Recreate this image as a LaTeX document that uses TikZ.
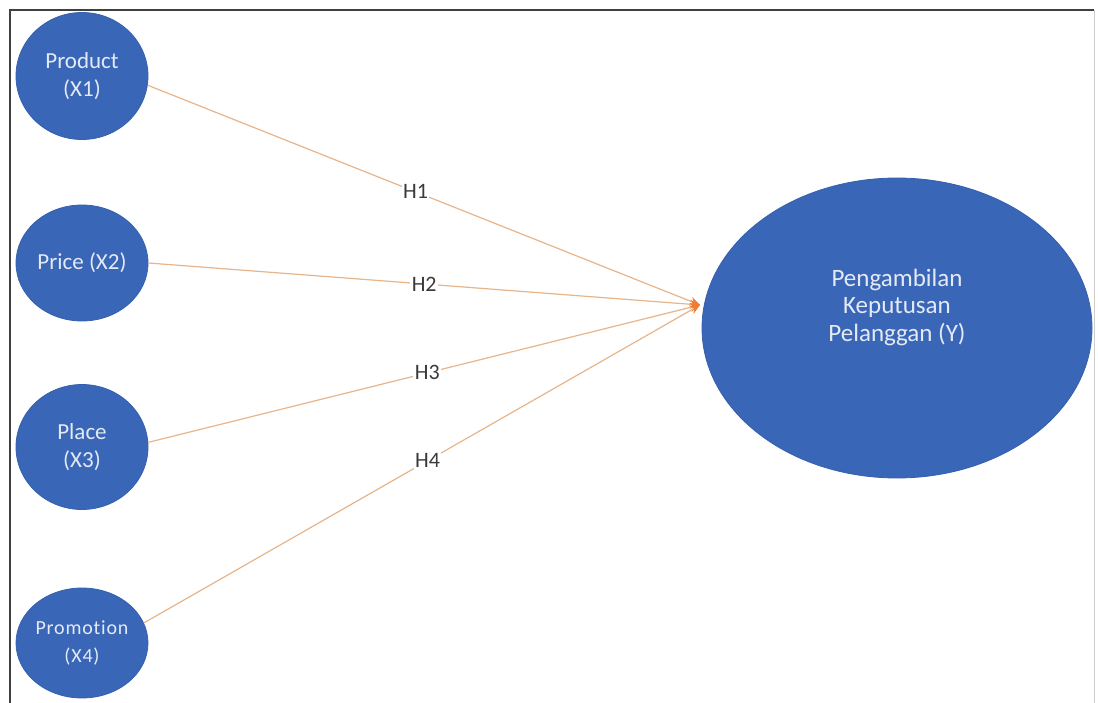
\documentclass[tikz,border=0pt]{standalone}
\usepackage{fontspec}
\setmainfont{Carlito}
\usetikzlibrary{arrows.meta,shapes.geometric}
\definecolor{nodeblue}{HTML}{3A66B8}
\definecolor{nodeedge}{HTML}{3560AE}
\definecolor{linetan}{HTML}{E8B48A}
\definecolor{tiporange}{HTML}{ED7D31}
\definecolor{labelgray}{HTML}{3A3A3A}
\definecolor{nodetext}{HTML}{E4EAF4}
\tikzset{
  varnode/.style={ellipse, fill=nodeblue, draw=nodeedge, line width=0.8pt,
    text=nodetext, align=center, font=\fontsize{23}{28}\selectfont, inner sep=0pt},
  link/.style={draw=linetan, line width=1.2pt,
    -{Stealth[length=10pt,width=9pt,color=tiporange,fill=tiporange]}},
  hlabel/.style={fill=white, inner sep=1.5pt, text=labelgray, font=\fontsize{22}{24}\selectfont},
  frameline/.style={draw=black!75, line width=1.6pt}
}
\begin{document}
\begin{tikzpicture}[x=1pt,y=-1pt]
\useasboundingbox (0,0) rectangle (1098,703);
\fill[white] (0,0) rectangle (1098,703);
% frame
\draw[frameline] (10,715) -- (10,10) -- (1094,10);
\draw[draw=black!20, line width=0.8pt] (1094,10) -- (1094,715);
% nodes
\node[varnode, minimum width=132pt, minimum height=127pt] (x1) at (82,76) {Product\\(X1)};
\node[varnode, minimum width=132pt, minimum height=116pt] (x2) at (82,263) {Price (X2)};
\node[varnode, minimum width=132pt, minimum height=125pt] (x3) at (82,447) {Place\\(X3)};
\node[varnode, minimum width=132pt, minimum height=110pt, font={\fontsize{20}{28}\selectfont\addfontfeatures{LetterSpace=4,RawFeature=-liga}}] (x4) at (82,643) {Promotion\\(X4)};
\node[varnode, minimum width=390pt, minimum height=300pt] (y) at (897,328) {};
\node[text=nodetext, align=center, font=\fontsize{25}{27.5}\selectfont] (ytext) at (897,307) {Pengambilan\\Keputusan\\Pelanggan (Y)};
\coordinate (tip) at (700,305);
% connectors
\draw[link] (x1.-8) -- node[hlabel, pos=0.485] {H1} (tip);
\draw[link] (x2.east) -- node[hlabel, pos=0.5] {H2} (tip);
\draw[link] (x3.4) -- node[hlabel, pos=0.506] {H3} (tip);
\draw[link] (x4.18) -- node[hlabel, pos=0.51] {H4} (tip);
\end{tikzpicture}
\end{document}
